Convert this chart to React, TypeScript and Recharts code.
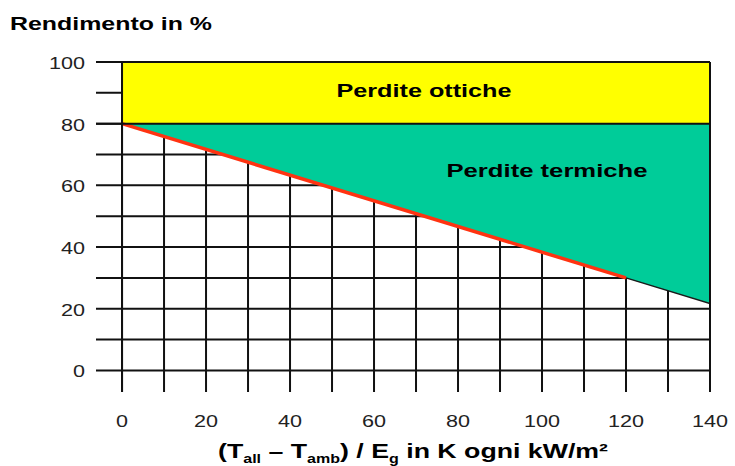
import {
  ComposedChart, Area, Line, XAxis, YAxis, CartesianGrid, ReferenceLine,
} from "recharts"

// collector efficiency vs. reduced temperature difference
const xVals = [0, 120, 140]
const efficiency = [80, 30, 21.7]      // lower edge of the thermal-loss band
const redLine = [80, 30, null]         // drawn part of the efficiency curve
const edgeLine = [null, 30, 21.7]      // thin dark edge past 120
const opticalBand = [80, 100]

const xTicks = [0, 10, 20, 30, 40, 50, 60, 70, 80, 90, 100, 110, 120, 130, 140]
const yTicks = [0, 10, 20, 30, 40, 50, 60, 70, 80, 90, 100]
const xLabels = [0, 20, 40, 60, 80, 100, 120, 140]
const yLabels = [0, 20, 40, 60, 80, 100]

const X_DOMAIN = [-6.2, 140]
const Y_DOMAIN = [-7, 100]

const data = xVals.map((x, i) => ({
  x,
  optical: opticalBand,
  thermal: [efficiency[i], opticalBand[0]],
  red: redLine[i],
  edge: edgeLine[i],
}))

const FONT = '"Liberation Sans", Arial, sans-serif'
const INK = "#111"

function XTick({ x, y, payload }: any) {
  if (!xLabels.includes(payload.value)) return <g />
  const s = String(payload.value)
  return (
    <text x={x} y={y + 35} textAnchor="middle" fontFamily={FONT} fontSize={16} fill="#222"
      textLength={s.length * 12} lengthAdjust="spacingAndGlyphs">{s}</text>
  )
}

function YTick({ x, y, payload }: any) {
  if (!yLabels.includes(payload.value)) return <g />
  const s = String(payload.value)
  return (
    <text x={x - 11} y={y + 7} textAnchor="end" fontFamily={FONT} fontSize={16} fill="#222"
      textLength={s.length * 12} lengthAdjust="spacingAndGlyphs">{s}</text>
  )
}

// grid only at the tick values, not at the plot edges
const hLines = ({ offset }: any) =>
  yTicks.map(v => offset.top + ((Y_DOMAIN[1] - v) / (Y_DOMAIN[1] - Y_DOMAIN[0])) * offset.height)
const vLines = ({ offset }: any) =>
  xTicks.map(v => offset.left + ((v - X_DOMAIN[0]) / (X_DOMAIN[1] - X_DOMAIN[0])) * offset.width)

export default function App() {
  return (
    <div style={{ position: "absolute", left: 0, top: 0, width: 735, height: 466, background: "#fff" }}>
      <ComposedChart width={735} height={466} data={data}
        margin={{ top: 62, right: 25, bottom: 34, left: 16 }}>
        <CartesianGrid stroke={INK} strokeWidth={2}
          horizontalCoordinatesGenerator={hLines} verticalCoordinatesGenerator={vLines} />
        <XAxis type="number" dataKey="x" domain={X_DOMAIN} ticks={xTicks}
          axisLine={false} tickLine={false} tickSize={0} tickMargin={0} height={40}
          tick={<XTick />} interval={0} allowDataOverflow />
        <YAxis type="number" domain={Y_DOMAIN} ticks={yTicks}
          axisLine={false} tickLine={false} tickSize={0} tickMargin={0} width={80}
          tick={<YTick />} interval={0} allowDataOverflow />

        <Area dataKey="optical" type="linear" fill="#ffff00" fillOpacity={1} stroke="none"
          isAnimationActive={false} dot={false} activeDot={false} />
        <Area dataKey="thermal" type="linear" fill="#00cc99" fillOpacity={1} stroke="none"
          isAnimationActive={false} dot={false} activeDot={false} />

        <Line dataKey="edge" type="linear" stroke="#1a1a1a" strokeWidth={1.5} dot={false}
          activeDot={false} isAnimationActive={false} />
        <Line dataKey="red" type="linear" stroke="#ff3311" strokeWidth={3.5} dot={false}
          activeDot={false} isAnimationActive={false} />

        <ReferenceLine y={100} stroke={INK} strokeWidth={2} zIndex={450} />
        <ReferenceLine y={80} stroke={INK} strokeWidth={2} zIndex={450} />
        <ReferenceLine x={0} stroke={INK} strokeWidth={2} zIndex={450} />
        <ReferenceLine x={140} stroke={INK} strokeWidth={2} zIndex={450} />
      </ComposedChart>

      <svg width={735} height={466} style={{ position: "absolute", left: 0, top: 0, pointerEvents: "none" }}>
        <g fontFamily={FONT} fontWeight="bold" fill="#000">
          <text x={10} y={30} fontSize={19} textLength={202} lengthAdjust="spacingAndGlyphs">
            Rendimento in %
          </text>
          <text x={424} y={97} fontSize={19} textAnchor="middle" textLength={175} lengthAdjust="spacingAndGlyphs">
            Perdite ottiche
          </text>
          <text x={547} y={177} fontSize={19} textAnchor="middle" textLength={201} lengthAdjust="spacingAndGlyphs">
            Perdite termiche
          </text>
          <text x={218} y={458} fontSize={20} textLength={390} lengthAdjust="spacingAndGlyphs">
            (T<tspan fontSize={12} dy={5}>all</tspan>
            <tspan dy={-5}> – T</tspan><tspan fontSize={12} dy={5}>amb</tspan>
            <tspan dy={-5}>) / E</tspan><tspan fontSize={12} dy={5}>g</tspan>
            <tspan dy={-5}> in K ogni kW/m²</tspan>
          </text>
        </g>
      </svg>
    </div>
  )
}
